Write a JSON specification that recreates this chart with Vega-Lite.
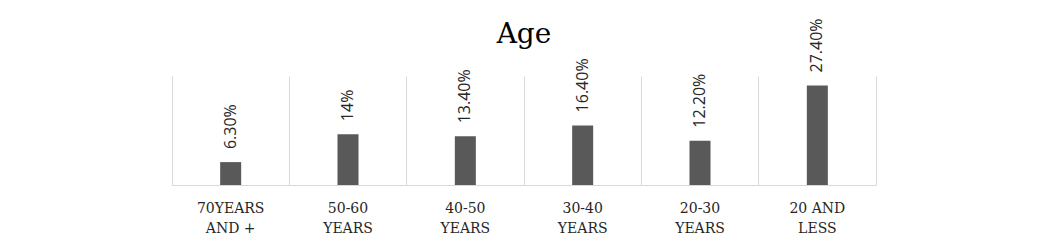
{
  "$schema": "https://vega.github.io/schema/vega-lite/v6.json",
  "autosize": "none",
  "padding": {"left": 172, "top": 76, "right": 173, "bottom": 59},
  "width": 704,
  "height": 109,
  "background": "white",
  "title": {
    "text": "Age",
    "font": "DejaVu Serif",
    "fontSize": 28,
    "fontWeight": "normal",
    "color": "#000000",
    "anchor": "middle",
    "baseline": "alphabetic",
    "frame": "group",
    "offset": -53
  },
  "data": {
    "values": [
      {"age": "70YEARS AND +", "pct": 6.3, "label": "6.30%"},
      {"age": "50-60 YEARS", "pct": 14, "label": "14%"},
      {"age": "40-50 YEARS", "pct": 13.4, "label": "13.40%"},
      {"age": "30-40 YEARS", "pct": 16.4, "label": "16.40%"},
      {"age": "20-30 YEARS", "pct": 12.2, "label": "12.20%"},
      {"age": "20 AND LESS", "pct": 27.4, "label": "27.40%"}
    ]
  },
  "encoding": {
    "x": {
      "field": "age",
      "type": "nominal",
      "sort": null,
      "scale": {"paddingInner": 0, "paddingOuter": 0},
      "axis": {
        "title": null,
        "labelAngle": 0,
        "labelFont": "DejaVu Serif",
        "labelFontSize": 14,
        "labelColor": "#262626",
        "labelPadding": 16,
        "labelLineHeight": 20,
        "labelExpr": "datum.value == '70YEARS AND +' ? ['70YEARS', 'AND +'] : datum.value == '20 AND LESS' ? ['20 AND', 'LESS'] : split(datum.value, ' ')",
        "ticks": false,
        "domainColor": "#d9d9d9",
        "domainWidth": 1,
        "grid": true,
        "gridColor": "#d9d9d9",
        "gridWidth": 1,
        "bandPosition": 0
      }
    },
    "y": {
      "field": "pct",
      "type": "quantitative",
      "scale": {"domain": [0, 30], "nice": false}
    }
  },
  "layer": [
    {
      "mark": {"type": "bar", "color": "#595959", "size": 21},
      "encoding": {
        "y": {
          "field": "pct",
          "type": "quantitative",
          "scale": {"domain": [0, 30], "nice": false},
          "axis": {"orient": "left", "title": null, "labels": false, "ticks": false, "grid": false, "domain": true, "domainColor": "#d9d9d9"}
        }
      }
    },
    {
      "mark": {
        "type": "text",
        "angle": 270,
        "align": "left",
        "baseline": "middle",
        "dx": 13,
        "font": "Open Sans",
        "fontSize": 16,
        "color": "#262626"
      },
      "encoding": {
        "y": {
          "field": "pct",
          "type": "quantitative",
          "scale": {"domain": [0, 30], "nice": false},
          "axis": {"orient": "right", "title": null, "labels": false, "ticks": false, "grid": false, "domain": true, "domainColor": "#d9d9d9"}
        },
        "text": {"field": "label"}
      }
    }
  ],
  "resolve": {"axis": {"y": "independent"}},
  "config": {"view": {"stroke": null}}
}
